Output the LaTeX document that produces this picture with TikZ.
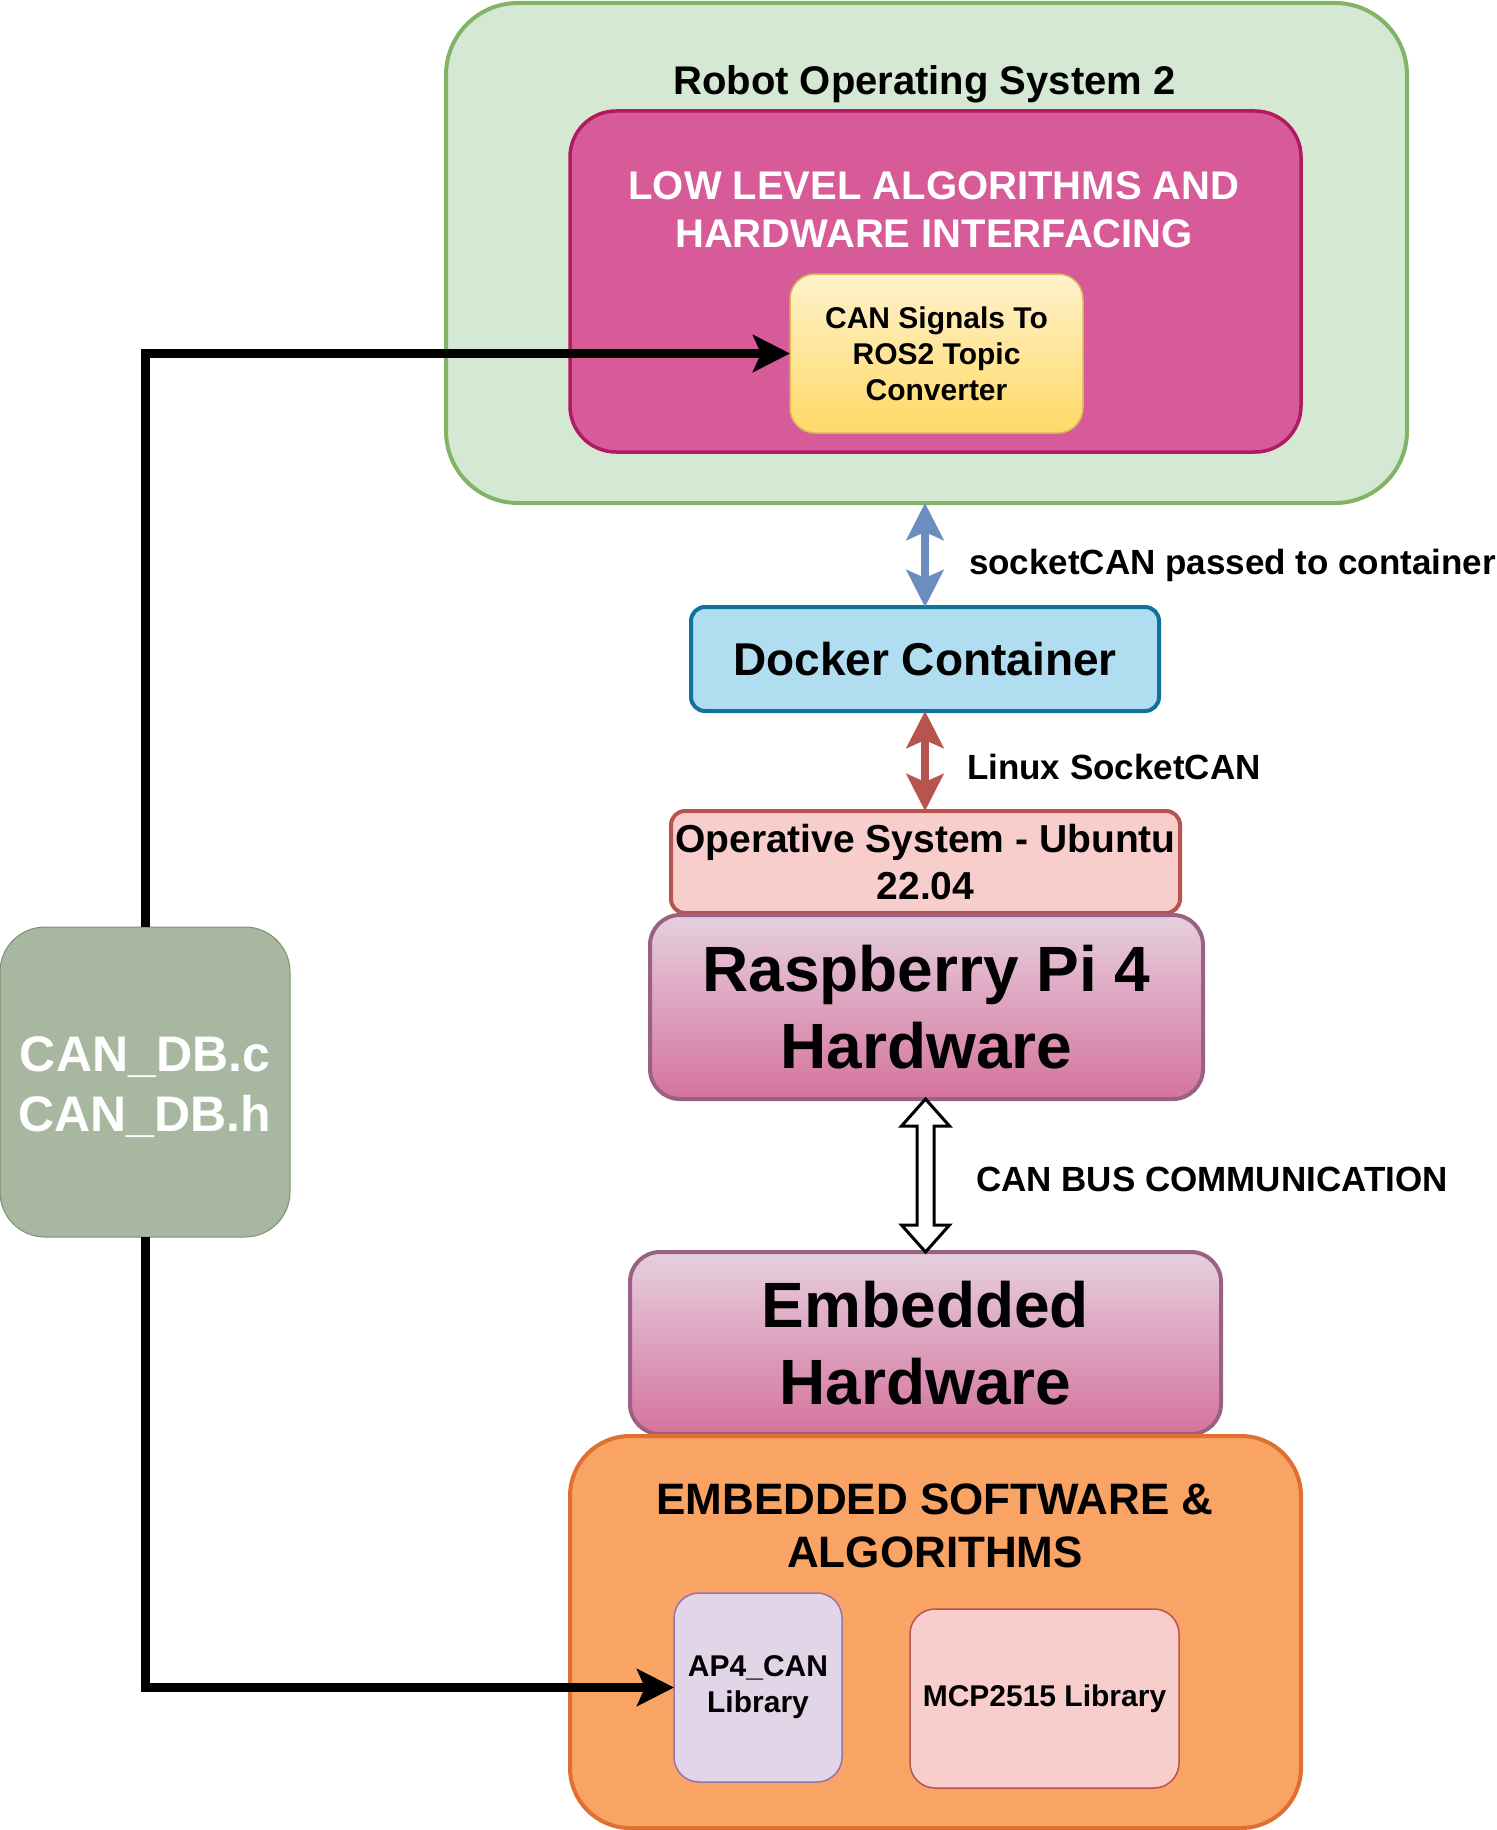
\documentclass[tikz,border=0pt]{standalone}
\usepackage{fontspec}
\setmainfont{Liberation Sans}
\usetikzlibrary{arrows.meta,calc}
\definecolor{rosfill}{HTML}{D5E8D4}
\definecolor{rosline}{HTML}{82B366}
\definecolor{lowfill}{HTML}{D75B98}
\definecolor{lowline}{HTML}{B01A5E}
\definecolor{convtop}{HTML}{FFF2CC}
\definecolor{convbot}{HTML}{FFD966}
\definecolor{convline}{HTML}{D6B656}
\definecolor{dockfill}{HTML}{B1DDF0}
\definecolor{dockline}{HTML}{10739E}
\definecolor{redfill}{HTML}{F8CECC}
\definecolor{redline}{HTML}{B85450}
\definecolor{hwtop}{HTML}{E6D0DE}
\definecolor{hwbot}{HTML}{D5739D}
\definecolor{hwline}{HTML}{996185}
\definecolor{orfill}{HTML}{F9A364}
\definecolor{orline}{HTML}{E07030}
\definecolor{purfill}{HTML}{E1D5E7}
\definecolor{purline}{HTML}{9673A6}
\definecolor{dbfill}{HTML}{A8B7A0}
\definecolor{dbline}{HTML}{7C9270}
\definecolor{bluearr}{HTML}{6C8EBF}
\begin{document}
\begin{tikzpicture}[x=1pt,y=-1pt,
  box/.style={rectangle, draw, inner sep=0pt, outer sep=0pt, align=center},
  txt/.style={inner sep=0pt, outer sep=0pt, align=center},
  fnt/.style={font=\bfseries\fontsize{#1}{\fpeval{1.2*#1}}\selectfont},
  >={Stealth[length=37pt, width=37pt, inset=8pt]},
  conn/.style={line width=9pt, line join=miter},
]
\useasboundingbox (0,0) rectangle (1496,1830);

% ROS container
\node[box, fill=rosfill, draw=rosline, line width=4pt, rounded corners=72pt,
      minimum width=961pt, minimum height=500pt] (ros) at (926.5,253) {};
\node[txt, fnt=40] (rostitle) at (924.5,84) {Robot Operating System 2};

% Low level box
\node[box, fill=lowfill, draw=lowline, line width=3.5pt, rounded corners=46pt,
      minimum width=731pt, minimum height=341pt] (low) at (935.5,281.5) {};
\node[txt, fnt=40, text=white] (lowtitle) at (934,210)
  {LOW LEVEL ALGORITHMS AND\\HARDWARE INTERFACING};

% Converter
\node[box, top color=convtop, bottom color=convbot, draw=convline, line width=1.5pt,
      rounded corners=25pt, minimum width=293pt, minimum height=159pt, fnt=30]
      (conv) at (936.5,353.5) {CAN Signals To\\ROS2 Topic\\Converter};

% Docker
\node[box, fill=dockfill, draw=dockline, line width=4pt, rounded corners=14pt,
      minimum width=468pt, minimum height=104pt, fnt=46]
      (docker) at (925,659) {Docker Container};

% OS
\node[box, fill=redfill, draw=redline, line width=4pt, rounded corners=14pt,
      minimum width=509pt, minimum height=102pt, fnt=39]
      (os) at (925.5,862) {Operative System - Ubuntu\\22.04};

% Raspberry Pi
\node[box, top color=hwtop, bottom color=hwbot, draw=hwline, line width=4pt,
      rounded corners=30pt, minimum width=553pt, minimum height=184pt, fnt=64]
      (rpi) at (926.5,1007) {Raspberry Pi 4\\Hardware};

% Embedded hardware
\node[box, top color=hwtop, bottom color=hwbot, draw=hwline, line width=4pt,
      rounded corners=30pt, minimum width=591pt, minimum height=182pt, fnt=64]
      (emb) at (925.5,1343) {Embedded\\Hardware};

% Embedded software
\node[box, fill=orfill, draw=orline, line width=4pt, rounded corners=60pt,
      minimum width=731pt, minimum height=392pt] (sw) at (935.5,1632) {};
\node[txt, fnt=44] (swtitle) at (935,1526) {EMBEDDED SOFTWARE \&\\ALGORITHMS};

\node[box, fill=purfill, draw=purline, line width=1.5pt, rounded corners=25pt,
      minimum width=168pt, minimum height=189pt, fnt=30]
      (ap4) at (758,1687.5) {AP4\_CAN\\Library};
\node[box, fill=redfill, draw=redline, line width=1.5pt, rounded corners=25pt,
      minimum width=269pt, minimum height=179pt, fnt=30]
      (mcp) at (1044.5,1698.5) {MCP2515 Library};

% CAN DB
\node[box, fill=dbfill, draw=dbline, line width=1pt, rounded corners=45pt,
      minimum width=290pt, minimum height=310pt, fnt=50, text=white]
      (db) at (145,1082) {\\[-14pt]CAN\_DB.c\\CAN\_DB.h};

% Connectors
\draw[conn, ->] (db.north) |- (conv.west);
\draw[conn, ->] (db.south) |- (ap4.west);

\draw[line width=8pt, draw=bluearr, <->] (docker.north |- ros.south) -- (docker.north);
\draw[line width=8pt, draw=redline, <->] (docker.south) -- (docker.south |- os.north);

% flex double arrow
\coordinate (fa) at (rpi.south -| emb.north);
\coordinate (fb) at (emb.north);
\draw[line width=3pt, fill=white, line join=miter]
  (fa) -- ([shift={(24,27)}]fa) -- ([shift={(8.5,27)}]fa) -- ([shift={(8.5,-27)}]fb)
  -- ([shift={(24,-27)}]fb) -- (fb) -- ([shift={(-24,-27)}]fb) -- ([shift={(-8.5,-27)}]fb)
  -- ([shift={(-8.5,27)}]fa) -- ([shift={(-24,27)}]fa) -- cycle;

% Labels
\node[txt, fnt=35, anchor=west] (lbl1) at (969,565) {socketCAN passed to container};
\node[txt, fnt=35, anchor=west] (lbl2) at (967,767) {Linux SocketCAN};
\node[txt, fnt=35, anchor=west] (lbl3) at (976,1179) {CAN BUS COMMUNICATION};
\end{tikzpicture}
\end{document}
